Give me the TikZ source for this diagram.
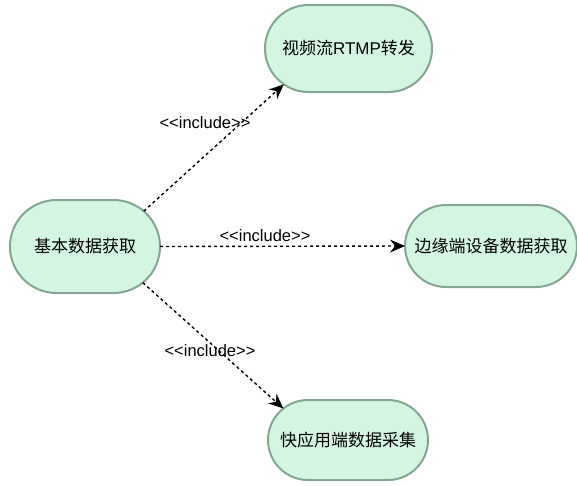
\documentclass[tikz,border=0pt]{standalone}
\usepackage{fontspec}
\setmainfont{Liberation Sans}[Ligatures=TeXOff]
\newfontfamily\cjk{Noto Sans CJK SC}
\usetikzlibrary{shapes.misc,arrows.meta}
\definecolor{ucfill}{HTML}{D5F5E3}
\definecolor{ucline}{HTML}{86A694}
\tikzset{
  usecase/.style={rounded rectangle, draw=ucline, fill=ucfill, line width=2pt,
    inner sep=0pt, outer sep=0pt, font=\cjk\fontsize{17}{19}\selectfont},
  inclink/.style={-{Stealth[length=15pt,width=13pt,inset=5pt,line width=0pt,round]}, line width=1.4pt,
    dash pattern=on 3pt off 3pt},
  inclabel/.style={font=\fontsize{16.5}{18}\selectfont, inner sep=0pt}
}
\begin{document}
\begin{tikzpicture}[x=1pt,y=-1pt]
\useasboundingbox (0,0) rectangle (577,485);
\node[usecase, minimum width=150pt, minimum height=93pt] (base) at (85,246.5) {基本数据获取};
\node[usecase, minimum width=167pt, minimum height=87pt] (rtmp) at (348.5,48.5) {{\cjk 视频流}{\fontsize{17}{19}\selectfont\rmfamily RTMP}{\cjk 转发}};
\node[usecase, minimum width=172pt, minimum height=82pt] (edge) at (491,246) {边缘端设备数据获取};
\node[usecase, minimum width=160pt, minimum height=80pt] (quick) at (348,440) {快应用端数据采集};
\draw[inclink] (base.31) -- (rtmp.209);
\draw[inclink] (base.east) -- (edge.west);
\draw[inclink] (base.-32) -- (quick.154);
\node[inclabel] (l1) at (205,123) {<<include>>};
\node[inclabel] (l2) at (265,236) {<<include>>};
\node[inclabel] (l3) at (210,351) {<<include>>};
\end{tikzpicture}
\end{document}
